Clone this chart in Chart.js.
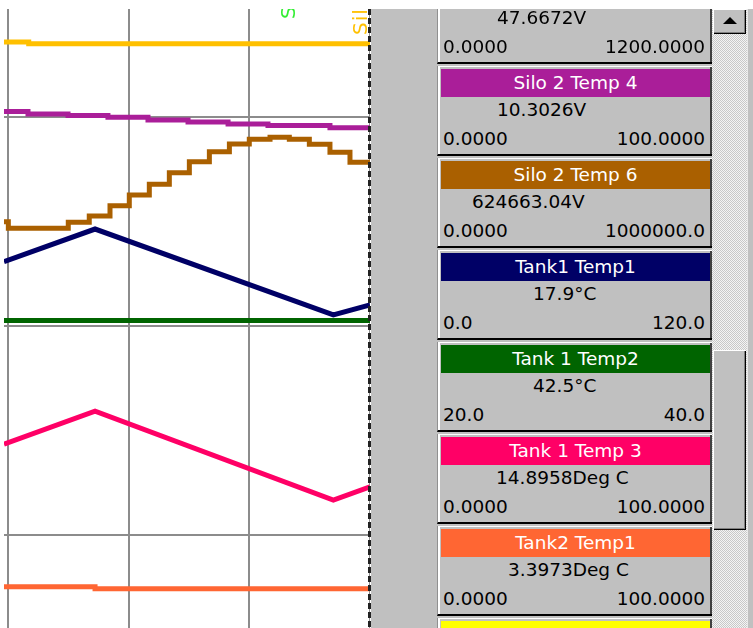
<!DOCTYPE html>
<html lang="en">
<head>
<meta charset="UTF-8">
<title>pen_trend</title>
<script src="https://cdn.jsdelivr.net/npm/chart.js"></script>
<style>
  html, body { margin: 0; padding: 0; background: #fff; }
  body { width: 753px; height: 628px; position: relative; overflow: hidden; font-family: "DejaVu Sans", sans-serif; }
  #plot { position: absolute; left: 4px; top: 9px; width: 366px; height: 619px; }
  #cursor { position: absolute; left: 368px; top: 9px; width: 3px; height: 619px;
            background: repeating-linear-gradient(to bottom, #222 0 6px, rgba(0,0,0,0) 6px 9px); }
  #labs { position: absolute; left: 0; top: 9px; width: 368px; height: 40px; overflow: hidden; }
  .lab { position: absolute; top: 26px; writing-mode: vertical-rl; font-size: 20px; line-height: 18px; letter-spacing: 1px;
         white-space: nowrap; transform: translateY(-100%) rotate(180deg); }
  #panel { position: absolute; left: 371px; top: 9px; width: 382px; height: 619px; background: #c0c0c0; overflow: hidden; }
  .card { position: absolute; left: 66px; width: 274px; height: 88px; background: #c0c0c0;
          border-left: 1px solid #909090; border-bottom: 2px solid #000;
          box-shadow: inset 2px 1px 0 #fff, inset -2px 0 0 #404040; }
  .card .hd { position: absolute; left: 3px; top: 3px; width: 269px; height: 28px; line-height: 28px;
              text-align: center; color: #fff; font-size: 18.5px; white-space: nowrap; }
  .card .val { position: absolute; top: 33px; line-height: 22px; font-size: 18.5px; color: #000; white-space: nowrap; }
  .card .rng { position: absolute; top: 62px; left: 5px; right: 7px; line-height: 22px; font-size: 18.5px; color: #000;
               display: flex; justify-content: space-between; white-space: nowrap; }
  #track { position: absolute; left: 341px; top: 0; width: 35px; height: 619px;
           background: repeating-conic-gradient(#c8c8c8 0 25%, #f4f4f4 0 50%) 0 0 / 2px 2px; }
  #edge { position: absolute; left: 376px; top: 0; width: 6px; height: 619px; background: #c0c0c0; border-left: 1px solid #e8e8e8; }
  .btn { position: absolute; left: 342px; width: 33px; background: #c0c0c0;
         box-shadow: inset 1px 1px 0 #fff, inset -1px -1px 0 #000, inset -2px -2px 0 #808080; }
  #up { top: 0; height: 25px; }
  #up:after { content: ""; position: absolute; left: 10px; top: 8px; border-left: 7px solid transparent;
              border-right: 7px solid transparent; border-bottom: 7px solid #000; }
  #thumb { top: 341px; height: 180px; }
</style>
</head>
<body>
<div id="plot"><canvas id="trend" width="366" height="619"></canvas></div>
<div id="cursor"></div>
<div id="labs">
  <div class="lab" style="left:351px; color:#ffc000;">Silo 1 Temp 2</div>
  <div class="lab" style="left:279px; top:10px; color:#33ee33;">Silo 3</div>
</div>
<div id="panel">
  <div id="track"></div>
  <div id="edge"></div>
  <div class="btn" id="up"></div>
  <div class="btn" id="thumb"></div>
</div>
<script>
// time axis (minutes shown) and chart position (divisions)
const xMin = -0.35, xMax = 30;
const yMin = -4.48, yMax = 25.2;
const xGrid = [0, 10, 20, 30];
const yGrid = [0, 10, 20];

// traces, as read from the recorder (time, position)
const yellowT = [-0.35, 1.7, 30];
const yellowV = [23.62, 23.53, 23.53];
const purpleT = [-0.35, 1.64, 4.96, 8.27, 11.59, 14.91, 18.23, 21.54, 26.68, 30];
const purpleV = [20.28, 20.17, 20.09, 20.01, 19.88, 19.78, 19.69, 19.61, 19.51, 19.51];
const brownT = [-0.35, 0.01, 4.98, 6.72, 8.44, 10.04, 11.70, 13.36, 15.02, 16.68, 18.34, 19.99, 21.71, 23.31, 24.97, 26.68, 28.34, 30];
const brownV = [15.00, 14.69, 14.97, 15.28, 15.77, 16.28, 16.80, 17.35, 17.88, 18.36, 18.73, 18.95, 19.05, 18.95, 18.71, 18.33, 17.85, 17.85];
const navyT = [-0.35, 7.2, 26.96, 30];
const navyV = [13.08, 14.65, 10.53, 11.01];
const greenT = [-0.35, 30];
const greenV = [10.27, 10.27];
const pinkT = [-0.35, 7.2, 26.96, 30];
const pinkV = [4.33, 5.92, 1.65, 2.29];
const orangeT = [-0.35, 7.2, 30];
const orangeV = [-2.50, -2.60, -2.60];

// pen cards on the right
const penNames = ['', 'Silo 2 Temp 4', 'Silo 2 Temp 6', 'Tank1 Temp1', 'Tank 1 Temp2', 'Tank 1 Temp 3', 'Tank2 Temp1', ''];
const penColors = ['#ffc000', '#aa1e99', '#aa6000', '#000066', '#006400', '#ff0066', '#ff6633', '#ffff00'];
const penReadings = ['47.6672V', '10.3026V', '624663.04V', '17.9\u00b0C', '42.5\u00b0C', '14.8958Deg C', '3.3973Deg C', ''];
const penLow = ['0.0000', '0.0000', '0.0000', '0.0', '20.0', '0.0000', '0.0000', ''];
const penHigh = ['1200.0000', '100.0000', '1000000.0', '120.0', '40.0', '100.0000', '100.0000', ''];

const readingLeft = [497, 497, 472, 533, 533, 496, 508, 500];
const panel = document.getElementById('panel');
penNames.forEach((name, i) => {
  const card = document.createElement('div');
  card.className = 'card';
  card.style.top = (-35 + i * 92) + 'px';
  card.innerHTML =
    '<div class="hd" style="background:' + penColors[i] + '">' + name + '</div>' +
    '<div class="val" style="left:' + (readingLeft[i] - 438) + 'px">' + penReadings[i] + '</div>' +
    '<div class="rng"><span>' + penLow[i] + '</span><span>' + penHigh[i] + '</span></div>';
  panel.insertBefore(card, document.getElementById('track'));
});

function pts(t, v) { return t.map((x, i) => ({ x: x, y: v[i] })); }
function pen(t, v, color, stepped) {
  return { data: pts(t, v), borderColor: color, borderWidth: 5, pointRadius: 0, stepped: stepped, tension: 0 };
}

new Chart(document.getElementById('trend'), {
  type: 'line',
  data: {
    datasets: [
      pen(orangeT, orangeV, '#ff6633', true),
      pen(pinkT, pinkV, '#ff0066', false),
      pen(greenT, greenV, '#006400', false),
      pen(navyT, navyV, '#000066', false),
      pen(brownT, brownV, '#aa6000', true),
      pen(purpleT, purpleV, '#aa1e99', true),
      pen(yellowT, yellowV, '#ffc000', true)
    ]
  },
  options: {
    responsive: false,
    animation: false,
    events: [],
    layout: { padding: 0 },
    plugins: { legend: { display: false }, tooltip: { enabled: false } },
    scales: {
      x: {
        type: 'linear', min: xMin, max: xMax,
        afterBuildTicks: s => { s.ticks = xGrid.map(v => ({ value: v })); },
        ticks: { display: false },
        grid: { color: '#8c8c8c', lineWidth: 2, drawTicks: false },
        border: { display: false }
      },
      y: {
        type: 'linear', min: yMin, max: yMax,
        afterBuildTicks: s => { s.ticks = yGrid.map(v => ({ value: v })); },
        ticks: { display: false },
        grid: { color: '#8c8c8c', lineWidth: 2, drawTicks: false },
        border: { display: false }
      }
    }
  }
});
</script>
</body>
</html>
